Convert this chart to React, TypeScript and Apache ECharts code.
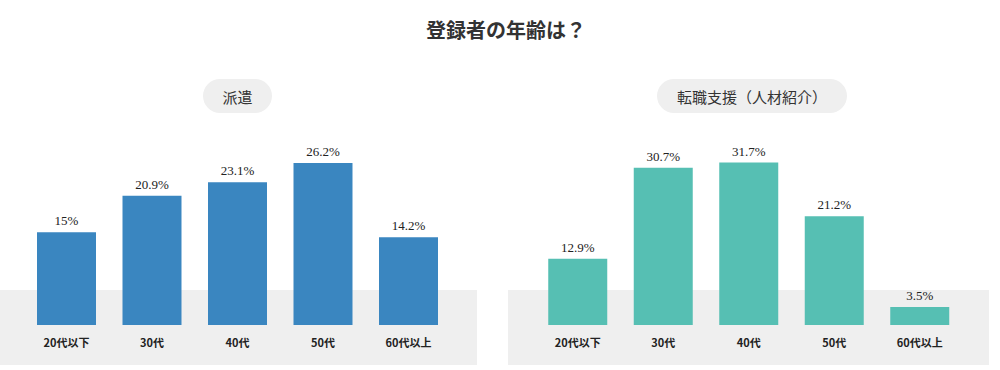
import React, { useEffect, useRef } from "react";
import * as echarts from "echarts";

const title = "登録者の年齢は？";
const panelTitles = ["派遣", "転職支援（人材紹介）"];
const categories = ["20代以下", "30代", "40代", "50代", "60代以上"];
const hakenValues = [15, 20.9, 23.1, 26.2, 14.2];
const tenshokuValues = [12.9, 30.7, 31.7, 21.2, 3.5];

const SANS = "'Noto Sans CJK JP', 'Noto Sans', sans-serif";
const SERIF = "'Liberation Serif', 'DejaVu Serif', serif";

export default function App() {
  const ref = useRef<HTMLDivElement>(null);
  useEffect(() => {
    document.body.style.margin = "0";
    const chart = echarts.init(ref.current!, null, { renderer: "svg" });
    const xAxisBase = {
      type: "category" as const,
      data: categories,
      axisLine: { show: false },
      axisTick: { show: false },
      axisLabel: {
        margin: 11,
        fontFamily: SANS,
        fontSize: 11,
        fontWeight: "bold" as const,
        color: "#222",
      },
    };
    const yAxisBase = {
      type: "value" as const,
      min: 0,
      max: "dataMax" as const,
      show: false,
      splitLine: { show: false },
    };
    const labelBase = {
      show: true,
      position: "top" as const,
      distance: 5,
      fontFamily: SERIF,
      fontSize: 13,
      color: "#222",
      formatter: (p: any) => p.value + "%",
    };
    chart.setOption({
      animation: false,
      grid: [
        { left: 23.75, width: 427.5, top: 163, height: 162 },
        { left: 535, width: 427.5, top: 162.5, height: 162.5 },
      ],
      xAxis: [
        { ...xAxisBase, gridIndex: 0 },
        { ...xAxisBase, gridIndex: 1 },
      ],
      yAxis: [
        { ...yAxisBase, gridIndex: 0 },
        { ...yAxisBase, gridIndex: 1 },
      ],
      series: [
        {
          type: "bar",
          xAxisIndex: 0,
          yAxisIndex: 0,
          data: hakenValues,
          barWidth: "69%",
          itemStyle: { color: "#3a86c0" },
          label: labelBase,
          z: 5,
        },
        {
          type: "bar",
          xAxisIndex: 1,
          yAxisIndex: 1,
          data: tenshokuValues,
          barWidth: "69%",
          itemStyle: { color: "#56bfb3" },
          label: labelBase,
          z: 5,
        },
      ],
      graphic: [
        {
          type: "rect",
          z: -10,
          silent: true,
          shape: { x: 0, y: 290, width: 477, height: 75 },
          style: { fill: "#efefef" },
        },
        {
          type: "rect",
          z: -10,
          silent: true,
          shape: { x: 508, y: 290, width: 481, height: 75 },
          style: { fill: "#efefef" },
        },
        {
          type: "text",
          x: 506,
          y: 29,
          style: {
            text: title,
            fontFamily: SANS,
            fontSize: 20,
            fontWeight: "bold",
            fill: "#333",
            align: "center",
            verticalAlign: "middle",
          },
        },
        {
          type: "rect",
          z: -10,
          shape: { x: 203, y: 79, width: 69, height: 34, r: 17 },
          style: { fill: "#efefef" },
        },
        {
          type: "text",
          x: 237.5,
          y: 96.5,
          style: {
            text: panelTitles[0],
            fontFamily: SANS,
            fontSize: 15,
            fill: "#333",
            align: "center",
            verticalAlign: "middle",
          },
        },
        {
          type: "rect",
          z: -10,
          shape: { x: 657, y: 79, width: 190, height: 34, r: 17 },
          style: { fill: "#efefef" },
        },
        {
          type: "text",
          x: 752,
          y: 96.5,
          style: {
            text: panelTitles[1],
            fontFamily: SANS,
            fontSize: 15,
            fill: "#333",
            align: "center",
            verticalAlign: "middle",
          },
        },
      ],
    });
    return () => chart.dispose();
  }, []);
  return <div ref={ref} style={{ width: 1000, height: 370 }} />;
}
